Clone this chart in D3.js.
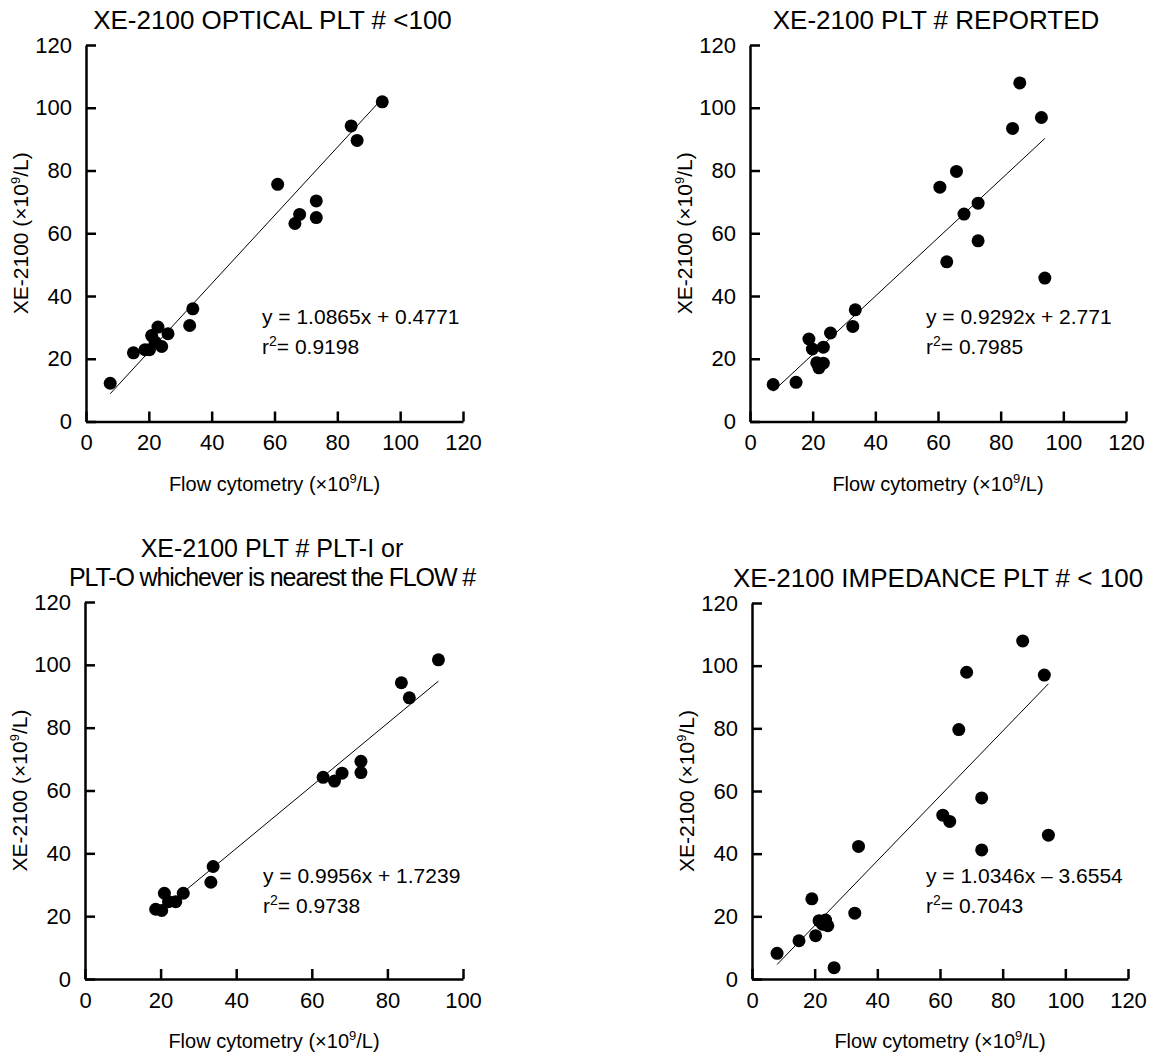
<!DOCTYPE html>
<html>
<head>
<meta charset="utf-8">
<script src="https://cdn.jsdelivr.net/npm/d3@7"></script>
<style>
  body { margin: 0; background: #fff; }
  text { font-family: "Liberation Sans", Arial, sans-serif; fill: #000; }
</style>
</head>
<body>
<script>
var w = 1153;
var h = 1059;

// panel 1: optical PLT < 100
var p1Flow = [7.7, 15.1, 18.8, 20.2, 20.9, 22.9, 22.0, 24.1, 26.1, 33.0, 34.0, 61.0, 66.5, 68.0, 73.3, 73.3, 84.4, 86.3, 94.3];
var p1XE   = [12.2, 21.9, 22.9, 22.9, 27.4, 30.1, 25.3, 23.9, 28.0, 30.6, 35.9, 75.6, 63.1, 66.0, 70.3, 65.0, 94.2, 89.6, 101.9];

// panel 2: PLT reported
var p2Flow = [7.4, 14.7, 18.8, 19.9, 23.4, 21.3, 23.4, 22.0, 25.7, 32.8, 33.6, 60.6, 65.9, 62.8, 68.3, 72.8, 72.8, 83.8, 86.1, 93.0, 94.1];
var p2XE   = [11.8, 12.5, 26.3, 23.1, 23.7, 18.7, 18.6, 17.1, 28.2, 30.3, 35.6, 74.7, 79.7, 50.9, 66.1, 69.6, 57.6, 93.4, 107.9, 96.9, 45.7];

// panel 3: PLT-I or PLT-O nearest the flow value
var p3Flow = [18.7, 20.3, 21.0, 22.1, 24.0, 26.0, 33.3, 33.9, 63.0, 66.0, 68.0, 73.0, 73.0, 83.7, 85.8, 93.5];
var p3XE   = [22.2, 21.8, 27.3, 24.6, 24.6, 27.3, 30.8, 35.8, 64.2, 63.0, 65.5, 69.3, 65.7, 94.3, 89.5, 101.6];

// panel 4: impedance PLT < 100
var p4Flow = [8.0, 15.0, 20.3, 19.1, 21.4, 23.5, 22.5, 24.2, 26.2, 32.8, 34.0, 60.9, 63.1, 66.0, 68.5, 73.3, 73.3, 86.4, 93.3, 94.6];
var p4XE   = [8.2, 12.2, 13.8, 25.6, 18.6, 18.8, 17.5, 17.0, 3.6, 21.0, 42.3, 52.3, 50.3, 79.6, 97.9, 57.8, 41.2, 107.9, 97.0, 45.9];

var slopes = [1.0865, 0.9292, 0.9956, 1.0346];
var intercepts = [0.4771, 2.771, 1.7239, -3.6554];
var eqLabels = ["y = 1.0865x + 0.4771", "y = 0.9292x + 2.771", "y = 0.9956x + 1.7239", "y = 1.0346x \u2013 3.6554"];
var r2Labels = ["= 0.9198", "= 0.7985", "= 0.9738", "= 0.7043"];

var titles = [
  ["XE-2100 OPTICAL PLT # <100"],
  ["XE-2100 PLT # REPORTED"],
  ["XE-2100 PLT # PLT-I or", "PLT-O whichever is nearest the FLOW #"],
  ["XE-2100 IMPEDANCE PLT # < 100"]
];
var xTicks120 = [0, 20, 40, 60, 80, 100, 120];
var xTicks100 = [0, 20, 40, 60, 80, 100];
var yTicks = [0, 20, 40, 60, 80, 100, 120];

var svg = d3.select("body")
  .append("svg")
  .attr("width", w)
  .attr("height", h);

var panels = [
  {flow: p1Flow, xe: p1XE, xr: [86, 463], yr: [421.5, 45], xmax: 120, xt: xTicks120, eq: [262, 324]},
  {flow: p2Flow, xe: p2XE, xr: [750, 1126], yr: [421.5, 45], xmax: 120, xt: xTicks120, eq: [926, 324]},
  {flow: p3Flow, xe: p3XE, xr: [85, 463], yr: [979, 602], xmax: 100, xt: xTicks100, eq: [263, 883]},
  {flow: p4Flow, xe: p4XE, xr: [752, 1128], yr: [979, 603], xmax: 120, xt: xTicks120, eq: [926, 883]}
];

panels.forEach(function(p, i) {
  var x = d3.scaleLinear().domain([0, p.xmax]).range(p.xr);
  var y = d3.scaleLinear().domain([0, 120]).range(p.yr);
  var g = svg.append("g");

  var xAxis = d3.axisBottom(x).tickValues(p.xt).tickSizeInner(-10).tickSizeOuter(0).tickPadding(13);
  var yAxis = d3.axisLeft(y).tickValues(yTicks).tickSizeInner(-10).tickSizeOuter(0).tickPadding(14);

  var gx = g.append("g")
    .attr("transform", "translate(0," + p.yr[0] + ")")
    .call(xAxis);
  var gy = g.append("g")
    .attr("transform", "translate(" + p.xr[0] + ",0)")
    .call(yAxis);

  [gx, gy].forEach(function(a) {
    a.selectAll("path, line").attr("stroke", "#000").attr("stroke-width", 2.5);
    a.selectAll("text")
      .attr("font-family", "Liberation Sans, Arial, sans-serif")
      .attr("font-size", "22px")
      .attr("fill", "#000");
  });

  // regression line over data extent
  var ext = d3.extent(p.flow);
  g.append("line")
    .attr("x1", x(ext[0]))
    .attr("y1", y(slopes[i] * ext[0] + intercepts[i]))
    .attr("x2", x(ext[1]))
    .attr("y2", y(slopes[i] * ext[1] + intercepts[i]))
    .attr("stroke", "#000")
    .attr("stroke-width", 1);

  g.selectAll("circle")
    .data(p.flow)
    .enter()
    .append("circle")
    .attr("cx", function(d) { return x(d); })
    .attr("cy", function(d, j) { return y(p.xe[j]); })
    .attr("r", 6.5)
    .attr("fill", "#000");

  // equation
  g.append("text")
    .attr("x", p.eq[0])
    .attr("y", p.eq[1])
    .attr("font-size", "21px")
    .text(eqLabels[i]);
  var r2 = g.append("text")
    .attr("x", p.eq[0])
    .attr("y", p.eq[1] + 30)
    .attr("font-size", "21px");
  r2.append("tspan").text("r");
  r2.append("tspan").attr("font-size", "14px").attr("dy", -8).text("2");
  r2.append("tspan").attr("dy", 8).text(r2Labels[i]);

  // title
  var cx = (p.xr[0] + p.xr[1]) / 2;
  var lines = titles[i];
  lines.forEach(function(t, k) {
    g.append("text")
      .attr("x", cx - 2)
      .attr("y", p.yr[1] - 16 - (lines.length - 1 - k) * 29)
      .attr("text-anchor", "middle")
      .attr("font-size", lines.length > 1 ? "25px" : "26px")
      .attr("letter-spacing", (lines.length > 1 && k == 1) ? "-1.1px" : "0px")
      .text(t);
  });

  // x label
  var xl = g.append("text")
    .attr("x", cx)
    .attr("y", p.yr[0] + 69)
    .attr("text-anchor", "middle")
    .attr("font-size", "20px");
  xl.append("tspan").text("Flow cytometry (\u00d710");
  xl.append("tspan").attr("font-size", "13px").attr("dy", -8).text("9");
  xl.append("tspan").attr("dy", 8).text("/L)");

  // y label
  var cy = (p.yr[0] + p.yr[1]) / 2;
  var yl = g.append("text")
    .attr("transform", "translate(" + (p.xr[0] - 58) + "," + cy + ") rotate(-90)")
    .attr("text-anchor", "middle")
    .attr("font-size", "21px");
  yl.append("tspan").text("XE-2100 (\u00d710");
  yl.append("tspan").attr("font-size", "13px").attr("dy", -8).text("9");
  yl.append("tspan").attr("dy", 8).text("/L)");
});
</script>
</body>
</html>
